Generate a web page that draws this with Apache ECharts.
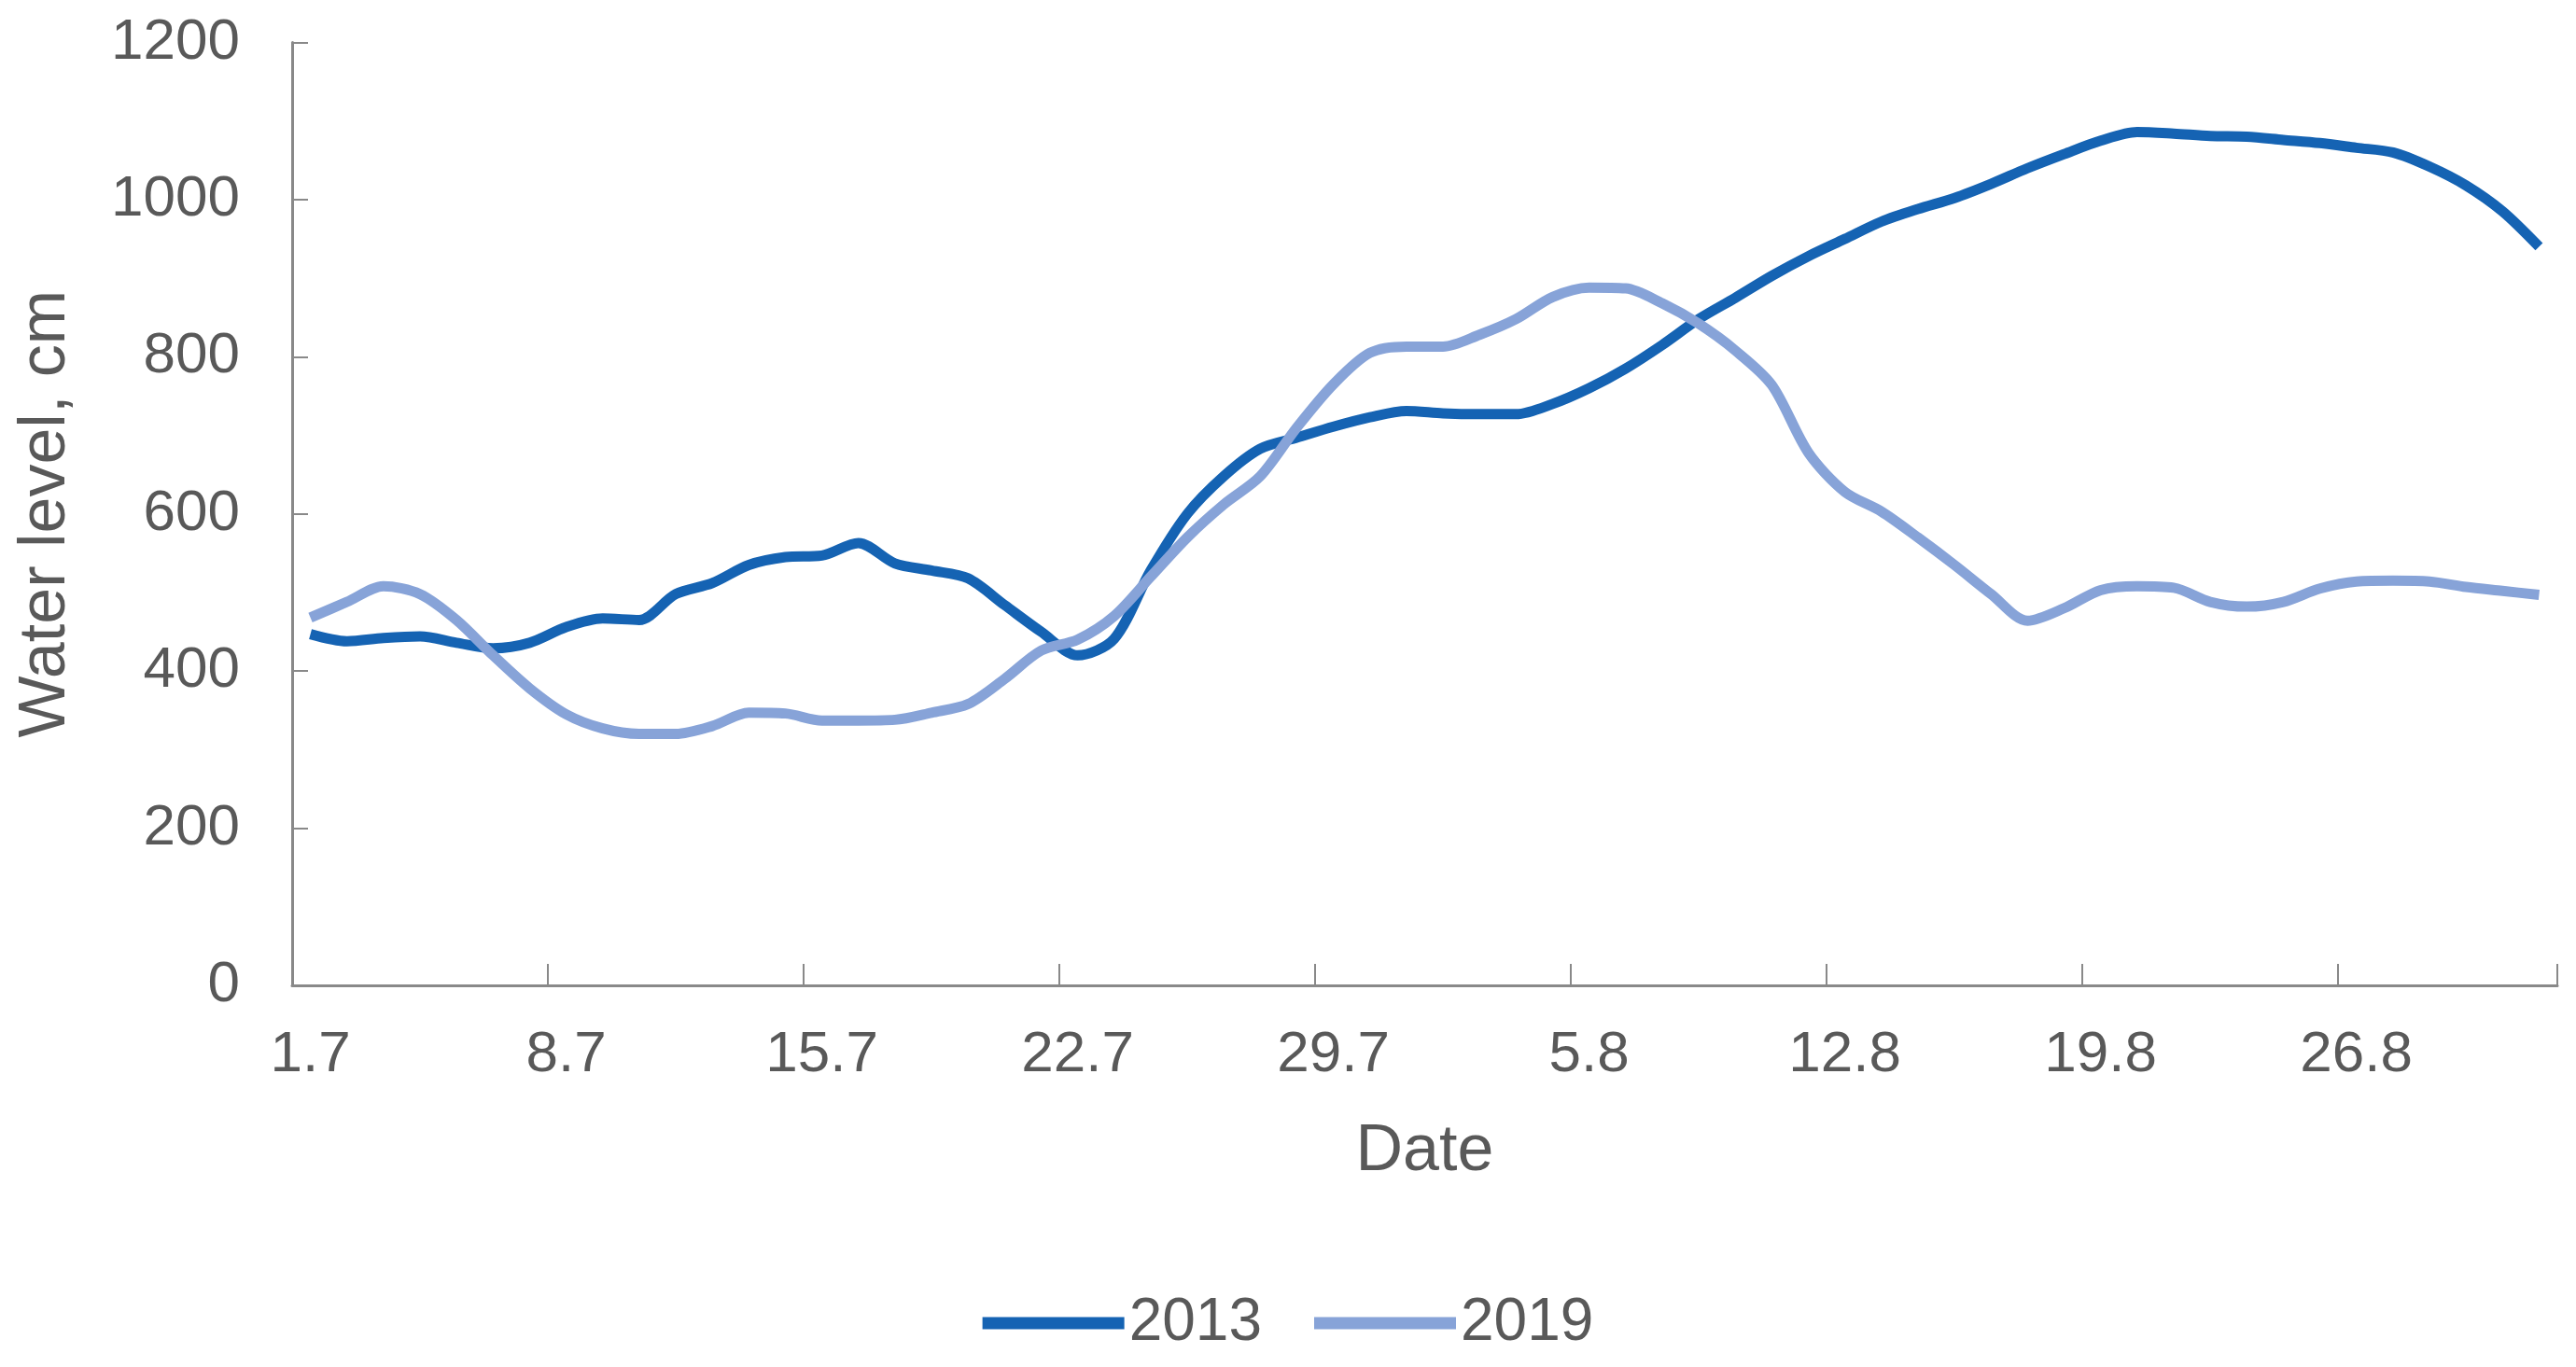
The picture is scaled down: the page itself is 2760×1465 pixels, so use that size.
<!DOCTYPE html>
<html>
<head>
<meta charset="utf-8">
<script src="https://cdn.jsdelivr.net/npm/echarts@6/dist/echarts.min.js"></script>
<style>
html,body{margin:0;padding:0;background:#fff;}
#chart{width:2760px;height:1465px;}
</style>
</head>
<body>
<div id="chart"></div>
<script>
// Dates: 1 July .. 31 August (day.month)
const dates = [];
for (let d = 1; d <= 31; d++) dates.push(d + '.7');
for (let d = 1; d <= 31; d++) dates.push(d + '.8');

const series2013 = [
  447, 438, 442, 444, 436, 429, 436, 456, 467, 465,
  498, 512, 535, 545, 547, 563, 537, 528, 518, 484,
  450, 420, 441, 528, 600, 648, 683, 697, 711, 723,
  731, 728, 727, 727, 740, 760, 785, 815, 848, 875,
  903, 928, 950, 972, 988, 1002, 1020, 1040, 1058, 1075,
  1086, 1084, 1081, 1080, 1076, 1072, 1066, 1060, 1042, 1018,
  985, 940
];
const series2019 = [
  468, 488, 508, 498, 465, 420, 378, 345, 327, 320,
  320, 330, 347, 346, 337, 337, 338, 347, 358, 390,
  426, 440, 470, 520, 570, 612, 648, 710, 765, 805,
  813, 813, 828, 848, 876, 888, 887, 868, 842, 808,
  764, 678, 628, 603, 570, 535, 498, 464, 480, 503,
  508, 506, 488, 482, 488, 505, 514, 515, 514, 507,
  502, 497
];
const seriesNames = ['2013', '2019'];
const yTicks = { min: 0, max: 1200, interval: 200 };

const FONT = 'Liberation Sans, Arial, sans-serif';
const TXT = '#595959';
const AX = '#898989';

const chart = echarts.init(document.getElementById('chart'), null, { renderer: 'canvas' });
chart.setOption({
  animation: false,
  backgroundColor: '#ffffff',
  grid: { left: 313, right: 20, top: 45.5, bottom: 409, containLabel: false },
  legend: {
    data: seriesNames,
    bottom: 10,
    left: 'center',
    icon: 'rect',
    itemWidth: 152,
    itemHeight: 13,
    itemGap: 56,
    textStyle: { fontFamily: FONT, fontSize: 64, color: TXT, lineHeight: 64 }
  },
  xAxis: {
    type: 'category',
    data: dates,
    boundaryGap: true,
    name: 'Date',
    nameLocation: 'middle',
    nameGap: 144,
    nameTextStyle: { fontFamily: FONT, fontSize: 70, color: TXT, verticalAlign: 'top' },
    axisLine: { show: true, lineStyle: { color: AX, width: 3 } },
    axisTick: { show: true, inside: true, length: 23, interval: 6, alignWithLabel: false, lineStyle: { color: AX, width: 2 } },
    axisLabel: { interval: 6, margin: 44, fontFamily: FONT, fontSize: 62, color: TXT },
    splitLine: { show: false }
  },
  yAxis: {
    type: 'value',
    min: yTicks.min,
    max: yTicks.max,
    interval: yTicks.interval,
    name: 'Water level, cm',
    nameLocation: 'middle',
    nameGap: 228,
    nameRotate: 90,
    nameTextStyle: { fontFamily: FONT, fontSize: 70, color: TXT },
    axisLine: { show: true, lineStyle: { color: AX, width: 3 } },
    axisTick: { show: true, inside: true, length: 17, lineStyle: { color: AX, width: 2 } },
    axisLabel: { margin: 56, fontFamily: FONT, fontSize: 62, color: TXT, formatter: function (v) { return String(v); } },
    splitLine: { show: false }
  },
  series: [
    {
      name: seriesNames[0], type: 'line', data: series2013,
      smooth: 0.3, symbol: 'none',
      lineStyle: { color: '#1563b3', width: 11 },
      itemStyle: { color: '#1563b3' }, z: 2
    },
    {
      name: seriesNames[1], type: 'line', data: series2019,
      smooth: 0.3, symbol: 'none',
      lineStyle: { color: '#87a3d8', width: 11 },
      itemStyle: { color: '#87a3d8' }, z: 3
    }
  ]
});
</script>
</body>
</html>
